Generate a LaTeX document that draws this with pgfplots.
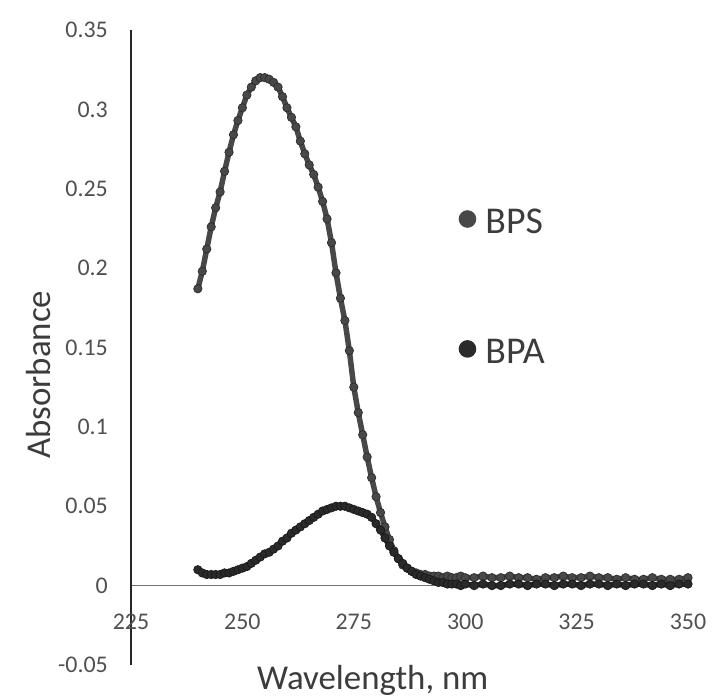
\documentclass[border=0pt]{standalone}
\usepackage{fontspec}
\setmainfont{Carlito}
\usepackage{pgfplots}
\pgfplotsset{compat=1.18}
\usepackage{pgfplotstable}

\definecolor{bps}{RGB}{72,72,72}
\definecolor{bpsedge}{RGB}{45,45,45}
\definecolor{bpa}{RGB}{42,42,42}
\definecolor{bpaedge}{RGB}{25,25,25}
\definecolor{tickgray}{RGB}{80,80,80}
\definecolor{labelgray}{RGB}{60,60,60}

% absorbance spectra
\pgfplotstableread{
x y
240 0.187
241 0.198
242 0.212
243 0.226
244 0.238
245 0.248
246 0.261
247 0.273
248 0.284
249 0.293
250 0.301
251 0.309
252 0.314
253 0.318
254 0.320
255 0.320
256 0.319
257 0.317
258 0.314
259 0.308
260 0.301
261 0.295
262 0.289
263 0.280
264 0.272
265 0.265
266 0.259
267 0.251
268 0.242
269 0.231
270 0.216
271 0.197
272 0.181
273 0.167
274 0.148
275 0.125
276 0.109
277 0.095
278 0.081
279 0.068
280 0.056
281 0.046
282 0.037
283 0.029
284 0.022
285 0.017
286 0.013
287 0.011
288 0.009
289 0.008
290 0.007
291 0.007
292 0.006
293 0.006
294 0.006
295 0.005
296 0.006
297 0.005
298 0.005
299 0.006
300 0.005
302 0.005
304 0.006
306 0.005
308 0.005
310 0.006
312 0.005
314 0.005
316 0.004
318 0.005
320 0.005
322 0.006
324 0.005
326 0.005
328 0.006
330 0.005
332 0.005
334 0.004
336 0.005
338 0.004
340 0.004
342 0.005
344 0.004
346 0.004
348 0.004
350 0.005
}\bpsdata

\pgfplotstableread{
x y
240 0.010
241 0.008
242 0.007
243 0.007
244 0.007
245 0.007
246 0.008
247 0.008
248 0.009
249 0.010
250 0.011
251 0.012
252 0.014
253 0.016
254 0.018
255 0.020
256 0.021
257 0.023
258 0.025
259 0.028
260 0.030
261 0.033
262 0.035
263 0.037
264 0.039
265 0.041
266 0.043
267 0.045
268 0.047
269 0.048
270 0.049
271 0.050
272 0.050
273 0.050
274 0.049
275 0.048
276 0.047
277 0.046
278 0.045
279 0.043
280 0.039
281 0.035
282 0.030
283 0.025
284 0.021
285 0.017
286 0.014
287 0.011
288 0.009
289 0.007
290 0.006
291 0.005
292 0.004
293 0.003
294 0.002
295 0.002
296 0.001
297 0.001
298 0.001
299 0.000
300 0.001
302 0.000
304 0.001
306 0.000
308 0.000
310 0.001
312 0.001
314 0.000
316 0.001
318 0.001
320 0.000
322 0.001
324 0.001
326 0.000
328 0.001
330 0.001
332 0.000
334 0.001
336 0.000
338 0.001
340 0.001
342 0.000
344 0.001
346 0.000
348 0.001
350 0.001
}\bpadata

\begin{document}
\begin{tikzpicture}
\path[use as bounding box] (-131bp,-32bp) rectangle (592bp,665bp);
\begin{axis}[
    scale only axis,
    width=557bp, height=635bp,
    xmin=225, xmax=350,
    ymin=-0.05, ymax=0.35,
    axis x line=middle,
    axis y line=left,
    x axis line style={-, draw=black!55, line width=0.8bp},
    y axis line style={-, draw=black!85, line width=1.1bp},
    xtick={225,250,275,300,325,350},
    xticklabels={225,250,275,300,325,350},
    ytick={-0.05,0,0.05,0.1,0.15,0.2,0.25,0.3,0.35},
    yticklabels={-0.05,0,0.05,0.1,0.15,0.2,0.25,0.3,0.35},
    major tick length=0pt,
    hide obscured x ticks=false,
    hide obscured y ticks=false,
    tick label style={font=\fontsize{24}{26}\selectfont, text=tickgray},
    xticklabel style={anchor=base, inner sep=0pt, yshift=-44bp},
    yticklabel style={anchor=east, inner sep=0pt, xshift=-23bp},
    xlabel={Wavelength, nm},
    ylabel={Absorbance},
    label style={font=\fontsize{35}{37}\selectfont, text=labelgray},
    x label style={at={(axis description cs:0.434,-0.039)}, anchor=base},
    y label style={at={(axis description cs:-0.1454,0.457)}, anchor=base},
    clip=false,
    legend style={draw=none, fill=none, at={(axis cs:298.5,0.188)}, anchor=west,
        inner sep=0pt, row sep=100bp, font=\fontsize{38}{40}\selectfont, text=labelgray},
    legend cell align=left,
    legend image code/.code={
        \path[draw=none, fill=none] (0bp,0bp) rectangle (22bp,0.1bp);
        \fill (6bp,0.33em) circle (6bp);},
]
\addplot[color=bps, line width=5.5bp, mark=*, mark size=4.2bp,
    mark options={fill=bps, draw=bpsedge, line width=0.7bp}] table[x=x, y=y] {\bpsdata};
\addlegendentry{BPS}
\addplot[color=bpa, line width=5.5bp, mark=*, mark size=4.2bp,
    mark options={fill=bpa, draw=bpaedge, line width=0.7bp}] table[x=x, y=y] {\bpadata};
\addlegendentry{BPA}
\end{axis}
\end{tikzpicture}
\end{document}
